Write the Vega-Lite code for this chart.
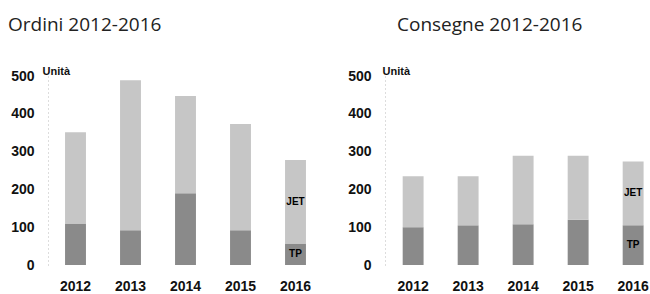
{
  "$schema": "https://vega.github.io/schema/vega-lite/v6.json",
  "background": "white",
  "padding": {"left": 8, "right": 0, "top": 16, "bottom": 0},
  "spacing": 24,
  "datasets": {
    "d": [
      {"panel": "Ordini", "year": "2012", "type": "TP", "value": 110},
      {"panel": "Ordini", "year": "2012", "type": "JET", "value": 241},
      {"panel": "Ordini", "year": "2013", "type": "TP", "value": 92},
      {"panel": "Ordini", "year": "2013", "type": "JET", "value": 397},
      {"panel": "Ordini", "year": "2014", "type": "TP", "value": 190},
      {"panel": "Ordini", "year": "2014", "type": "JET", "value": 257},
      {"panel": "Ordini", "year": "2015", "type": "TP", "value": 92},
      {"panel": "Ordini", "year": "2015", "type": "JET", "value": 281},
      {"panel": "Ordini", "year": "2016", "type": "TP", "value": 57},
      {"panel": "Ordini", "year": "2016", "type": "JET", "value": 221},
      {"panel": "Consegne", "year": "2012", "type": "TP", "value": 100},
      {"panel": "Consegne", "year": "2012", "type": "JET", "value": 135},
      {"panel": "Consegne", "year": "2013", "type": "TP", "value": 105},
      {"panel": "Consegne", "year": "2013", "type": "JET", "value": 130},
      {"panel": "Consegne", "year": "2014", "type": "TP", "value": 108},
      {"panel": "Consegne", "year": "2014", "type": "JET", "value": 181},
      {"panel": "Consegne", "year": "2015", "type": "TP", "value": 120},
      {"panel": "Consegne", "year": "2015", "type": "JET", "value": 169},
      {"panel": "Consegne", "year": "2016", "type": "TP", "value": 105},
      {"panel": "Consegne", "year": "2016", "type": "JET", "value": 169}
    ]
  },
  "hconcat": [
    {
      "width": 275,
      "height": 189,
      "title": {"text": "Ordini 2012-2016", "anchor": "start", "frame": "group", "dx": -40, "offset": 30, "font": "Open Sans", "fontSize": 19, "fontWeight": "normal", "color": "#222"},
      "data": {"name": "d"},
      "transform": [{"filter": "datum.panel == 'Ordini'"}],
      "layer": [
        {
          "mark": {"type": "bar"},
          "encoding": {
            "x": {"field": "year", "type": "ordinal", "scale": {"paddingInner": 0.62, "paddingOuter": 0.31},
              "axis": {"title": null, "ticks": false, "domain": false, "labelAngle": 0, "labelFont": "Liberation Sans", "labelFontWeight": "bold", "labelFontSize": 14, "labelColor": "#111", "labelPadding": 14}},
            "y": {"field": "value", "type": "quantitative", "stack": "zero", "scale": {"domain": [0, 500]},
              "axis": {"values": [0, 100, 200, 300, 400, 500], "labelOverlap": false, "ticks": false, "grid": false, "domain": true, "domainDash": [1, 3], "domainColor": "#bbbbbb", "labelFont": "Liberation Sans", "labelFontWeight": "bold", "labelFontSize": 14, "labelColor": "#111", "labelPadding": 14,
                "title": "Unità", "titleAngle": 0, "titleAlign": "left", "titleBaseline": "alphabetic", "titleX": -6, "titleY": -2, "titleFont": "Liberation Sans", "titleFontWeight": "bold", "titleFontSize": 11, "titleColor": "#111"}},
            "color": {"field": "type", "type": "nominal", "scale": {"domain": ["TP", "JET"], "range": ["#8a8a8a", "#c6c6c6"]}, "legend": null},
            "order": {"field": "type", "sort": "descending"}
          }
        },
        {
          "transform": [{"filter": "datum.year == '2016'"}],
          "mark": {"type": "text", "font": "Liberation Sans", "fontWeight": "bold", "fontSize": 10, "color": "#000"},
          "encoding": {
            "x": {"field": "year", "type": "ordinal",
              "axis": {"title": null, "ticks": false, "domain": false, "labelAngle": 0, "labelFont": "Liberation Sans", "labelFontWeight": "bold", "labelFontSize": 14, "labelColor": "#111", "labelPadding": 14}},
            "y": {"field": "value", "type": "quantitative", "stack": "zero", "bandPosition": 0.5,
              "axis": {"values": [0, 100, 200, 300, 400, 500], "labelOverlap": false, "ticks": false, "grid": false, "domain": true, "domainDash": [1, 3], "domainColor": "#bbbbbb", "labelFont": "Liberation Sans", "labelFontWeight": "bold", "labelFontSize": 14, "labelColor": "#111", "labelPadding": 14,
                "title": "Unità", "titleAngle": 0, "titleAlign": "left", "titleBaseline": "alphabetic", "titleX": -6, "titleY": -2, "titleFont": "Liberation Sans", "titleFontWeight": "bold", "titleFontSize": 11, "titleColor": "#111"}},
            "text": {"field": "type"},
            "order": {"field": "type", "sort": "descending"}
          }
        }
      ]
    },
    {
      "width": 265,
      "height": 189,
      "title": {"text": "Consegne 2012-2016", "anchor": "start", "frame": "group", "dx": 12, "offset": 30, "font": "Open Sans", "fontSize": 19, "fontWeight": "normal", "color": "#222"},
      "data": {"name": "d"},
      "transform": [{"filter": "datum.panel == 'Consegne'"}],
      "layer": [
        {
          "mark": {"type": "bar"},
          "encoding": {
            "x": {"field": "year", "type": "ordinal", "scale": {"paddingInner": 0.62, "paddingOuter": 0.219, "align": 0.734},
              "axis": {"title": null, "ticks": false, "domain": false, "labelAngle": 0, "labelFont": "Liberation Sans", "labelFontWeight": "bold", "labelFontSize": 14, "labelColor": "#111", "labelPadding": 14}},
            "y": {"field": "value", "type": "quantitative", "stack": "zero", "scale": {"domain": [0, 500]},
              "axis": {"values": [0, 100, 200, 300, 400, 500], "labelOverlap": false, "ticks": false, "grid": false, "domain": true, "domainDash": [1, 3], "domainColor": "#bbbbbb", "labelFont": "Liberation Sans", "labelFontWeight": "bold", "labelFontSize": 14, "labelColor": "#111", "labelPadding": 14,
                "title": "Unità", "titleAngle": 0, "titleAlign": "left", "titleBaseline": "alphabetic", "titleX": -3, "titleY": -2, "titleFont": "Liberation Sans", "titleFontWeight": "bold", "titleFontSize": 11, "titleColor": "#111"}},
            "color": {"field": "type", "type": "nominal", "scale": {"domain": ["TP", "JET"], "range": ["#8a8a8a", "#c6c6c6"]}, "legend": null},
            "order": {"field": "type", "sort": "descending"}
          }
        },
        {
          "transform": [{"filter": "datum.year == '2016'"}],
          "mark": {"type": "text", "font": "Liberation Sans", "fontWeight": "bold", "fontSize": 10, "color": "#000"},
          "encoding": {
            "x": {"field": "year", "type": "ordinal",
              "axis": {"title": null, "ticks": false, "domain": false, "labelAngle": 0, "labelFont": "Liberation Sans", "labelFontWeight": "bold", "labelFontSize": 14, "labelColor": "#111", "labelPadding": 14}},
            "y": {"field": "value", "type": "quantitative", "stack": "zero", "bandPosition": 0.5,
              "axis": {"values": [0, 100, 200, 300, 400, 500], "labelOverlap": false, "ticks": false, "grid": false, "domain": true, "domainDash": [1, 3], "domainColor": "#bbbbbb", "labelFont": "Liberation Sans", "labelFontWeight": "bold", "labelFontSize": 14, "labelColor": "#111", "labelPadding": 14,
                "title": "Unità", "titleAngle": 0, "titleAlign": "left", "titleBaseline": "alphabetic", "titleX": -3, "titleY": -2, "titleFont": "Liberation Sans", "titleFontWeight": "bold", "titleFontSize": 11, "titleColor": "#111"}},
            "text": {"field": "type"},
            "order": {"field": "type", "sort": "descending"}
          }
        }
      ]
    }
  ],
  "config": {"view": {"stroke": null}}
}
